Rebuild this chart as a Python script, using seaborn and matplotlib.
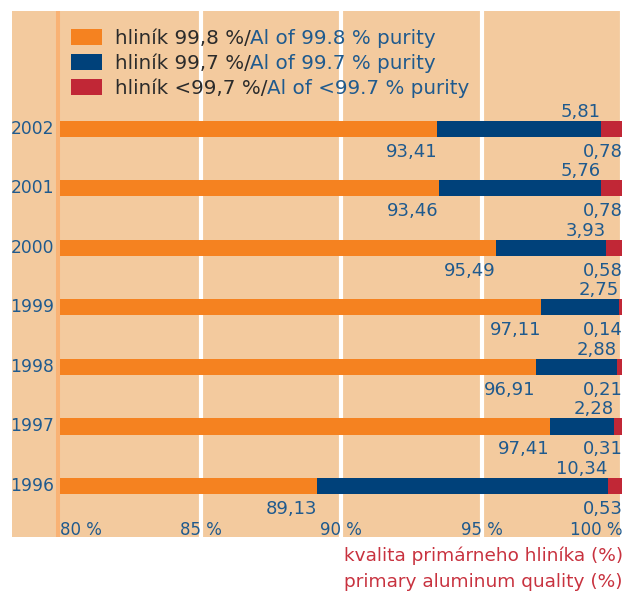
import matplotlib
matplotlib.use('Agg')
import matplotlib.pyplot as plt
import matplotlib.patches as mpatches
import pandas as pd
import seaborn as sns

# ---------------------------------------------------------------------------
# Dáta
# ---------------------------------------------------------------------------
roky      = ['2002', '2001', '2000', '1999', '1998', '1997', '1996']
al_998    = [93.41, 93.46, 95.49, 97.11, 96.91, 97.41, 89.13]
al_997    = [5.81, 5.76, 3.93, 2.75, 2.88, 2.28, 10.34]
al_pod    = [0.78, 0.78, 0.58, 0.14, 0.21, 0.31, 0.53]
x_ticky   = [80, 85, 90, 95, 100]
legenda_sk = ['hliník 99,8 %/', 'hliník 99,7 %/', 'hliník <99,7 %/']
legenda_en = ['Al of 99.8 % purity', 'Al of 99.7 % purity', 'Al of <99.7 % purity']

# ---------------------------------------------------------------------------
# Farby
# ---------------------------------------------------------------------------
POZADIE  = '#F3CA9E'
ORANZOVA = '#F58220'
MODRA    = '#00417A'
CERVENA  = '#C12736'
TEXT_M   = '#1F5A8E'
TEXT_C   = '#C8323F'
LINKA    = '#F9B274'

ZACIATOK = 80  # os x začína na 80 %, pruhy kreslíme od tejto hodnoty

df = pd.DataFrame({'rok': roky, 'a': al_998, 'b': al_997, 'c': al_pod})
df['cum1'] = df['a'] - ZACIATOK
df['cum2'] = df['a'] + df['b'] - ZACIATOK
df['cum3'] = df['a'] + df['b'] + df['c'] - ZACIATOK

sns.set_theme(style='white')
plt.rcParams['font.family'] = ['DejaVu Sans']

W, H = 637, 592
fig = plt.figure(figsize=(W / 100, H / 100), dpi=100)
ax = fig.add_axes([12 / W, 55 / H, (623 - 12) / W, (537 - 11) / H])
ax.set_facecolor(POZADIE)

# stacked bars: kreslíme kumulatívne súčty od najdlhšieho
for col, farba in [('cum3', CERVENA), ('cum2', MODRA), ('cum1', ORANZOVA)]:
    sns.barplot(data=df, x=col, y='rok', order=roky, orient='h', color=farba,
                width=0.27, saturation=1, linewidth=0, edgecolor='none',
                ax=ax, zorder=3)

ax.set_xlim(-1.71, 20.02)
ax.set_ylim(6 + 0.857, -1.98)

# mriežka
for t in x_ticky[1:]:
    ax.axvline(t - ZACIATOK, color='white', lw=3, zorder=1)
ax.axvline(-0.07, color=LINKA, lw=2.9, zorder=2)

ax.set_xlabel('')
ax.set_ylabel('')
ax.set_xticks([])
ax.set_yticks([])
for s in ax.spines.values():
    s.set_visible(False)

# roky
for i, r in enumerate(roky):
    ax.annotate(r, xy=(-0.07, i), xytext=(-4, 0), textcoords='offset pixels',
                ha='right', va='center', fontsize=12.3, color=TEXT_M)

# hodnoty
fmt = lambda v: f'{v:.2f}'.replace('.', ',')
for i, row in df.iterrows():
    ax.annotate(fmt(row['b']), xy=(row['cum2'], i), xytext=(0, 12),
                textcoords='offset pixels', ha='right', va='baseline',
                fontsize=13, color=TEXT_M)
    ax.annotate(fmt(row['a']), xy=(row['cum1'], i), xytext=(0, -28),
                textcoords='offset pixels', ha='right', va='baseline',
                fontsize=13, color=TEXT_M)
    ax.annotate(fmt(row['c']), xy=(row['cum3'], i), xytext=(0, -28),
                textcoords='offset pixels', ha='right', va='baseline',
                fontsize=13, color=TEXT_M)

# popisky osi x vo vnútri grafu
tr = ax.get_xaxis_transform()
for k, t in enumerate(x_ticky):
    ha = 'left' if k == 0 else ('right' if k == len(x_ticky) - 1 else 'center')
    ax.text(t - ZACIATOK, 0.003, f'{t} %', transform=tr, ha=ha, va='baseline',
            fontsize=12, color=TEXT_M)

# legenda
handles = [mpatches.Patch(facecolor=c, edgecolor='none', linewidth=0)
           for c in [ORANZOVA, MODRA, CERVENA]]
leg = ax.legend(handles, legenda_sk, loc='upper left',
                bbox_to_anchor=(55 / W, 1 - 13 / H), bbox_transform=fig.transFigure,
                frameon=False, fontsize=14.3, handlelength=1.55, handleheight=0.8,
                handletextpad=0.65, labelspacing=0.3, borderpad=0.3)
for t in leg.get_texts():
    t.set_color('#2B2B2B')

# anglická časť legendy v modrej farbe hneď za slovenskou
fig.canvas.draw()
for t, en in zip(leg.get_texts(), legenda_en):
    bb = t.get_window_extent()
    fig.text(bb.x1 / W, bb.y0 / H, en, ha='left', va='bottom',
             fontsize=14.3, color=TEXT_M)

# názov osi
fig.text(623 / W, 1 - 561 / H, 'kvalita primárneho hliníka (%)', ha='right',
         va='baseline', fontsize=13.3, color=TEXT_C)
fig.text(623 / W, 1 - 587 / H, 'primary aluminum quality (%)', ha='right',
         va='baseline', fontsize=13.3, color=TEXT_C)

fig.savefig('out.png', dpi=100, facecolor='white')
plt.close(fig)
